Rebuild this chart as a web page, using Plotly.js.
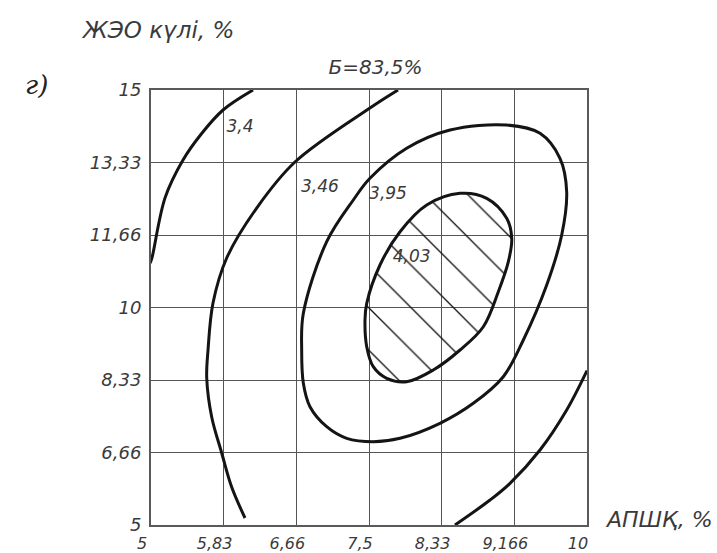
<!DOCTYPE html>
<html>
<head>
<meta charset="utf-8">
<script src="https://cdn.plot.ly/plotly-3.0.1.min.js"></script>
<style>html,body{margin:0;padding:0;background:#fff;}#chart{width:717px;height:553px;}</style>
</head>
<body>
<div id="chart"></div>
<script>
// Tick values and labels
const xTickVals = [5, 5.8333, 6.6667, 7.5, 8.3333, 9.1667, 10];
const xTickText = ["5", "5,83", "6,66", "7,5", "8,33", "9,166", "10"];
const yTickVals = [5, 6.6667, 8.3333, 10, 11.6667, 13.3333, 15];
const yTickText = ["5", "6,66", "8,33", "10", "11,66", "13,33", "15"];

// Contour 3,4
const c340x = [6.170, 5.826, 5.581, 5.367, 5.161, 5.011, 4.99];
const c340y = [15.0, 14.54, 14.00, 13.39, 12.52, 11.14, 11.02];

// Contour 3,46
const c346x = [7.833, 7.511, 6.651, 6.212, 5.868, 5.711, 5.654, 5.639, 5.696, 5.811, 5.925, 6.078];
const c346y = [15.0, 14.586, 13.345, 12.287, 11.138, 10.103, 9.023, 8.379, 7.483, 6.655, 5.873, 5.161];

// Contour 3,95 (closed)
const c395x = [6.728, 6.747, 7.015, 7.320, 7.511, 7.932, 8.429, 9.079, 9.461, 9.690, 9.767, 9.710, 9.538, 9.270, 9.040, 8.696, 8.314, 7.856, 7.549, 7.244, 7.015, 6.823, 6.747, 6.728];
const c395y = [9.023, 9.867, 11.513, 12.471, 12.970, 13.660, 14.080, 14.195, 14.005, 13.430, 12.662, 11.667, 10.517, 9.253, 8.409, 7.797, 7.338, 6.993, 6.915, 6.993, 7.260, 7.719, 8.257, 9.023];

// Contour 4,03 (closed, hatched)
const c403x = [7.454, 7.474, 7.626, 7.856, 8.162, 8.544, 8.850, 9.079, 9.137, 9.098, 8.983, 8.811, 8.544, 8.237, 7.932, 7.703, 7.549, 7.474, 7.454];
const c403y = [9.713, 10.096, 10.977, 11.742, 12.356, 12.625, 12.510, 12.050, 11.591, 11.053, 10.363, 9.558, 9.023, 8.563, 8.294, 8.372, 8.639, 9.099, 9.713];

// Lower-right contour (unlabelled)
const cLRx = [8.486, 8.888, 9.117, 9.461, 9.767, 10.0];
const cLRy = [5.0, 5.574, 5.958, 6.724, 7.644, 8.55];

// Contour labels
const labelText = ["3,4", "3,46", "3,95", "4,03"];
const labelX = [6.021, 6.938, 7.718, 7.990];
const labelY = [14.126, 12.747, 12.586, 11.138];

const txtColor = "#3a3a3a";
const fam = "DejaVu Sans, Arial, sans-serif";
const lineStyle = {color: "#141414", width: 3, shape: "spline", smoothing: 1};

const traces = [
  {x: c403x, y: c403y, mode: "lines", line: lineStyle, fill: "toself",
   fillcolor: "rgba(0,0,0,0)",
   fillpattern: {shape: "\\", size: 30, solidity: 0.045, fgcolor: "#111", bgcolor: "rgba(255,255,255,0)"},
   hoverinfo: "skip"},
  {x: c340x, y: c340y, mode: "lines", line: lineStyle, hoverinfo: "skip"},
  {x: c346x, y: c346y, mode: "lines", line: lineStyle, hoverinfo: "skip"},
  {x: c395x, y: c395y, mode: "lines", line: lineStyle, hoverinfo: "skip"},
  {x: cLRx, y: cLRy, mode: "lines", line: lineStyle, hoverinfo: "skip"},
  {x: labelX, y: labelY, mode: "text", text: labelText,
   textfont: {family: fam, size: 17, color: txtColor, style: "italic"}, hoverinfo: "skip"}
];

const layout = {
  width: 717, height: 553,
  margin: {l: 151, r: 130, t: 90, b: 28, pad: 0},
  paper_bgcolor: "#fff", plot_bgcolor: "#fff",
  showlegend: false,
  font: {family: fam, color: txtColor},
  title: {text: "Б=83,5%", x: 0.515, xanchor: "center", xref: "paper",
          y: 1 - 67 / 553, yref: "container", yanchor: "middle",
          font: {family: fam, size: 20, color: txtColor, style: "italic"}},
  xaxis: {range: [5, 10], tickmode: "array", tickvals: xTickVals, ticktext: xTickText,
          showgrid: true, gridcolor: "#555", gridwidth: 1, zeroline: false,
          showline: true, linecolor: "#5a5a5a", linewidth: 2, mirror: true,
          ticks: "", ticklabelstandoff: 3, ticklabelshift: -9,
          tickfont: {family: fam, size: 16, color: txtColor, style: "italic"}, fixedrange: true},
  yaxis: {range: [5, 15], tickmode: "array", tickvals: yTickVals, ticktext: yTickText,
          showgrid: true, gridcolor: "#555", gridwidth: 1, zeroline: false,
          showline: true, linecolor: "#5a5a5a", linewidth: 2, mirror: true,
          ticks: "", ticklabelstandoff: 4,
          tickfont: {family: fam, size: 18, color: txtColor, style: "italic"}, fixedrange: true},
  annotations: [
    {text: "ЖЭО күлі, %", xref: "paper", yref: "paper", x: -0.165, y: 1.138,
     xanchor: "left", yanchor: "middle", showarrow: false,
     font: {family: fam, size: 23, color: txtColor, style: "italic"}},
    {text: "АПШҚ, %", xref: "paper", yref: "paper", x: 1.036, y: 0.012,
     xanchor: "left", yanchor: "middle", showarrow: false,
     font: {family: fam, size: 22, color: txtColor, style: "italic"}},
    {text: "г)", xref: "paper", yref: "paper", x: -0.294, y: 1.011,
     xanchor: "left", yanchor: "middle", showarrow: false,
     font: {family: "DejaVu Serif, serif", size: 26, color: "#222", style: "italic"}}
  ]
};

Plotly.newPlot("chart", traces, layout, {displayModeBar: false, staticPlot: true});
</script>
</body>
</html>
